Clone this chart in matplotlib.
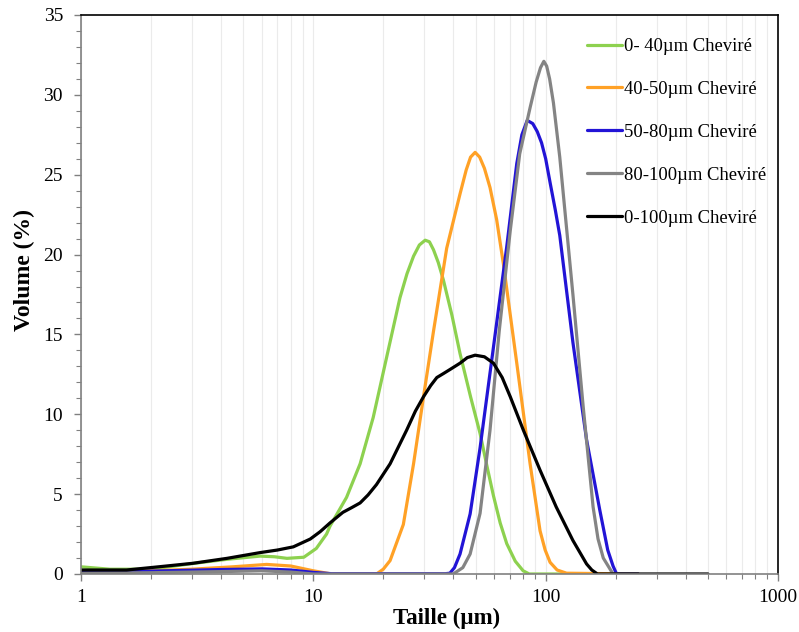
import numpy as np
import matplotlib.pyplot as plt
from matplotlib.ticker import MultipleLocator, LogLocator, NullFormatter, FixedLocator, FixedFormatter

plt.rcParams['font.family'] = ['Liberation Serif', 'DejaVu Serif']

# Particle size distributions (size in um, volume in %)
x_0_40 = [1, 1.33, 2, 3, 4.25, 5.9, 6.8, 7.7, 9.1, 10.3, 11.4, 11.8, 13.9, 15.9, 18.1, 20.7,
          23.6, 25.3, 27, 28.6, 30.3, 31.6, 32.9, 34.5, 36.3, 39.5, 42.8, 47.5, 52.2, 55.8,
          59.6, 63.7, 68, 74, 80, 85, 140]
y_0_40 = [0.45, 0.3, 0.3, 0.65, 0.92, 1.12, 1.08, 0.98, 1.05, 1.6, 2.5, 3.0, 4.8, 6.9, 9.8, 13.6,
          17.3, 18.8, 19.9, 20.6, 20.9, 20.8, 20.3, 19.5, 18.4, 16.2, 13.8, 11.1, 8.8, 6.8,
          4.9, 3.2, 1.9, 0.8, 0.2, 0.0, 0.0]

x_40_50 = [1, 2, 3, 4.5, 6.3, 8, 10, 12, 18.7, 20, 21.4, 24.4, 27, 29.8, 32.9, 37.5, 42.8,
           45.5, 47.5, 49.7, 52, 54.5, 57.6, 61.5, 65.8, 75.1, 85.7, 94.6, 99.5, 104.5,
           112, 123, 250]
y_40_50 = [0.15, 0.2, 0.3, 0.45, 0.6, 0.5, 0.2, 0.0, 0.0, 0.3, 0.84, 3.1, 6.9, 11.1, 15.2, 20.4,
           23.8, 25.3, 26.1, 26.4, 26.1, 25.4, 24.2, 22.2, 19.4, 13.2, 6.9, 2.7, 1.5, 0.73,
           0.25, 0.05, 0.0]

x_50_80 = [1, 2, 4, 6, 8, 10, 12, 37, 38.7, 40.5, 42.8, 47.3, 52.2, 59.6, 68, 75.1, 79,
           83.3, 88, 92, 96, 100, 104.5, 110, 115, 131, 150, 171, 185, 195, 202, 250]
y_50_80 = [0.15, 0.18, 0.28, 0.32, 0.25, 0.1, 0.02, 0.02, 0.05, 0.4, 1.25, 3.76, 7.9, 14.2,
           20.5, 25.7, 27.5, 28.4, 28.2, 27.7, 27.0, 26.0, 24.5, 22.8, 21.2, 14.5, 8.4, 4.0,
           1.5, 0.5, 0.0, 0.0]

x_80_100 = [1, 2, 4, 6, 8, 10, 40, 44, 47.3, 52.2, 57.6, 63.1, 70.4, 77.3, 85.7, 91, 95,
            98.2, 101, 104, 108, 115, 131, 145, 160, 168, 177, 195, 250]
y_80_100 = [0.05, 0.08, 0.15, 0.2, 0.12, 0.0, 0.0, 0.4, 1.25, 3.8, 9.0, 15.2, 21.5, 26.3,
            29.2, 30.8, 31.7, 32.1, 31.8, 31.0, 29.5, 26.1, 17.5, 10.5, 4.2, 2.2, 1.0, 0.0, 0.0]

x_0_100 = [1, 1.57, 2.19, 3.03, 4.25, 5.9, 7.0, 8.2, 9.7, 10.7, 11.8, 13.4, 14.6, 15.9,
           17.2, 18.7, 21.4, 25.2, 27.5, 29.8, 32, 34.0, 36.3, 38.7, 42.8, 46, 49.7, 54.5,
           59.6, 65, 70.4, 80.2, 94.6, 111, 131, 150, 158, 167, 500]
y_0_100 = [0.25, 0.25, 0.46, 0.67, 0.98, 1.34, 1.5, 1.7, 2.19, 2.65, 3.2, 3.86, 4.15, 4.45,
           4.95, 5.6, 6.9, 9.0, 10.2, 11.1, 11.8, 12.3, 12.55, 12.8, 13.2, 13.55, 13.7, 13.6,
           13.2, 12.3, 11.1, 9.0, 6.5, 4.2, 2.1, 0.63, 0.25, 0.0, 0.0]

labels = ['0- 40\u00b5m Chevir\u00e9', '40-50\u00b5m Chevir\u00e9', '50-80\u00b5m Chevir\u00e9',
          '80-100\u00b5m Chevir\u00e9', '0-100\u00b5m Chevir\u00e9']
colors = ['#8DD14F', '#FFA126', '#2214D6', '#848484', '#000000']
series = [(x_0_40, y_0_40), (x_40_50, y_40_50), (x_50_80, y_50_80),
          (x_80_100, y_80_100), (x_0_100, y_0_100)]

fig = plt.figure(figsize=(7.99, 6.32), dpi=100)
ax = fig.add_axes([81 / 799, 58 / 632, 697 / 799, 559 / 632])

for (xs, ys), c, lab in zip(series, colors, labels):
    ax.plot(xs, ys, color=c, lw=2.3, label=lab, solid_capstyle='round',
            solid_joinstyle='round')

ax.set_xscale('log')
ax.set_xlim(1, 1000)
ax.set_ylim(0, 35)

ax.xaxis.set_major_locator(FixedLocator([1, 10, 100, 1000]))
ax.xaxis.set_major_formatter(FixedFormatter(['1', '10', '100', '1000']))
ax.xaxis.set_minor_locator(LogLocator(base=10, subs=np.arange(2, 10)))
ax.xaxis.set_minor_formatter(NullFormatter())
ax.yaxis.set_major_locator(MultipleLocator(5))
ax.yaxis.set_minor_locator(MultipleLocator(1))

ax.grid(True, which='both', axis='x', color='#EBEBEB', lw=0.8)
ax.set_axisbelow(True)

ax.tick_params(axis='both', which='major', direction='out', length=5, width=1,
               color='#808080', labelsize=14)
ax.tick_params(axis='both', which='minor', direction='out', length=3.5, width=0.8, color='#808080')
ax.tick_params(axis='y', which='major', pad=8)
ax.tick_params(axis='x', which='major', pad=6)

for s in ['left', 'bottom']:
    ax.spines[s].set_color('#808080')
    ax.spines[s].set_linewidth(1.2)
for s in ['top', 'right']:
    ax.spines[s].set_color('black')
    ax.spines[s].set_linewidth(1.2)

ax.set_xlabel('Taille (\u00b5m)', fontsize=16.5, fontweight='bold')
ax.set_ylabel('Volume (%)', fontsize=17, fontweight='bold')
ax.xaxis.set_label_coords(0.524, -0.060)
ax.yaxis.set_label_coords(-0.066, 0.544)

ax.legend(loc='upper left', bbox_to_anchor=(587 / 799, 1 - 38 / 632),
          bbox_transform=fig.transFigure, frameon=False, fontsize=13.4,
          handlelength=1.9, handletextpad=0.1, labelspacing=1.39,
          borderpad=0, borderaxespad=0)

fig.savefig('out.png', dpi=100)
